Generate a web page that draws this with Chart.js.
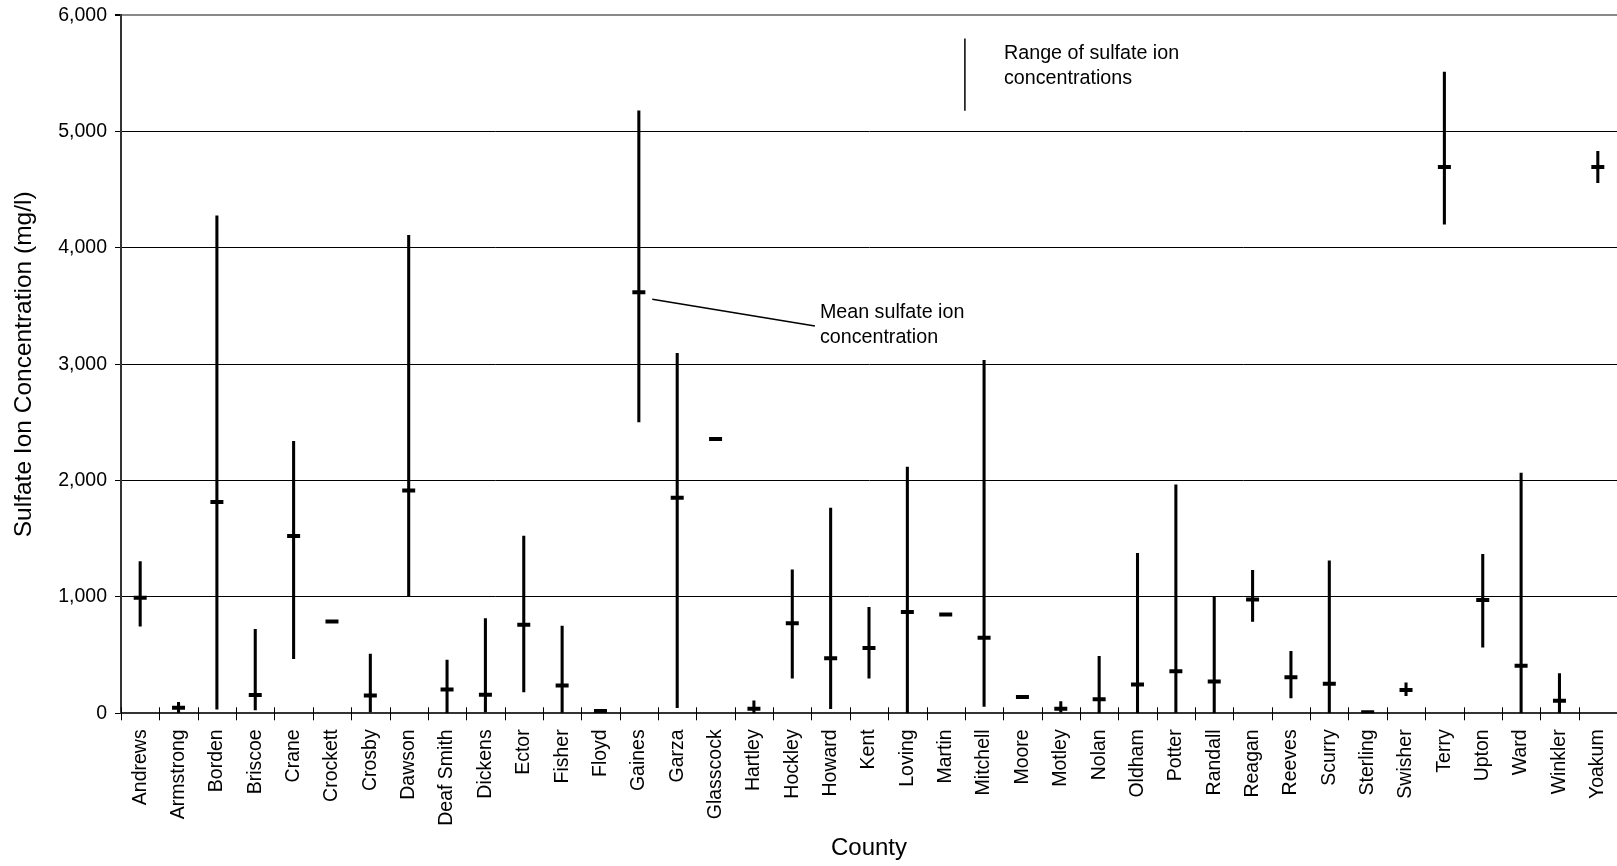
<!DOCTYPE html>
<html>
<head>
<meta charset="utf-8">
<title>Sulfate ion concentration by county</title>
<script src="https://cdn.jsdelivr.net/npm/chart.js@4.4.1/dist/chart.umd.min.js"></script>
<style>
  html, body { margin: 0; padding: 0; background: #fff; }
  canvas { display: block; }
</style>
</head>
<body>
<canvas id="sulfateChart" width="1617" height="866"></canvas>
<script>
const counties = ['Andrews','Armstrong','Borden','Briscoe','Crane','Crockett','Crosby','Dawson','Deaf Smith','Dickens',
  'Ector','Fisher','Floyd','Gaines','Garza','Glasscock','Hartley','Hockley','Howard','Kent',
  'Loving','Martin','Mitchell','Moore','Motley','Nolan','Oldham','Potter','Randall','Reagan',
  'Reeves','Scurry','Sterling','Swisher','Terry','Upton','Ward','Winkler','Yoakum'];

// range of sulfate ion concentrations (mg/l), null where only a mean is shown
const minVals = [750, 5, 35, 30, 469, null, 12, 1002, 0, 12,
  184, 8, null, 2505, 48, null, 0, 301, 40, 301,
  0, null, 60, null, 10, 0, 0, 8, 0, 790,
  132, 0, null, 152, 4204, 569, 0, 0, 4561];
const maxVals = [1305, 95, 4277, 721, 2337, null, 509, 4108, 457, 814,
  1523, 750, null, 5178, 3094, null, 108, 1234, 1764, 910,
  2116, null, 3034, null, 100, 489, 1375, 1964, 1002, 1230,
  533, 1311, null, 261, 5511, 1367, 2064, 341, 4830];
// mean sulfate ion concentration (mg/l)
const meanVals = [994, 48, 1816, 158, 1523, 790, 152, 1916, 204, 160,
  762, 240, 20, 3619, 1852, 2357, 40, 774, 473, 561,
  870, 850, 649, 140, 40, 120, 248, 361, 273, 978,
  309, 253, 8, 200, 4697, 974, 409, 108, 4697];

const yTicks = [0, 1000, 2000, 3000, 4000, 5000, 6000];

const FONT = '"Liberation Sans", Arial, Helvetica, sans-serif';

// call-outs, placed in data units (x = category index, y = mg/l)
const rangeKey = {x: 21.5, from: 5800, to: 5180};
const rangeText = {x: 22.52, lines: [[5675, 'Range of sulfate ion'], [5458, 'concentrations']]};
const meanText = {x: 17.72, lines: [[3445, 'Mean sulfate ion'], [3226, 'concentration']]};
const meanLeader = {x1: 13.35, y1: 3559, x2: 17.59, y2: 3329};

const annotate = {
  id: 'annotate',
  afterDatasetsDraw(chart) {
    const {ctx, scales: {x, y}} = chart;
    ctx.save();
    // category tick marks straddling the x axis
    const y0 = y.getPixelForValue(0);
    ctx.strokeStyle = '#000';
    ctx.lineWidth = 1;
    for (let i = 0; i <= counties.length; i++) {
      const px = Math.round(x.getPixelForValue(i - 0.5)) + 0.5;
      ctx.beginPath();
      ctx.moveTo(px, y0 - 6);
      ctx.lineTo(px, y0 + 7);
      ctx.stroke();
    }
    // key line for the range
    ctx.lineWidth = 1.5;
    ctx.beginPath();
    ctx.moveTo(x.getPixelForValue(rangeKey.x), y.getPixelForValue(rangeKey.from));
    ctx.lineTo(x.getPixelForValue(rangeKey.x), y.getPixelForValue(rangeKey.to));
    ctx.stroke();
    // leader line for the mean
    ctx.beginPath();
    ctx.moveTo(x.getPixelForValue(meanLeader.x1), y.getPixelForValue(meanLeader.y1));
    ctx.lineTo(x.getPixelForValue(meanLeader.x2), y.getPixelForValue(meanLeader.y2));
    ctx.stroke();
    // texts
    ctx.fillStyle = '#000';
    ctx.font = '19.7px ' + FONT;
    ctx.textAlign = 'left';
    ctx.textBaseline = 'middle';
    [rangeText, meanText].forEach(t => {
      t.lines.forEach(([v, s]) => ctx.fillText(s, x.getPixelForValue(t.x), y.getPixelForValue(v)));
    });
    ctx.restore();
  }
};

new Chart(document.getElementById('sulfateChart'), {
  type: 'bar',
  data: {
    labels: counties,
    datasets: [
      {
        label: 'Range',
        data: counties.map((c, i) => minVals[i] == null ? null : [minVals[i], maxVals[i]]),
        backgroundColor: '#000',
        borderWidth: 0,
        barThickness: 2.4,
        order: 2
      },
      {
        type: 'line',
        label: 'Mean',
        data: meanVals,
        showLine: false,
        pointStyle: 'line',
        pointRadius: 6.5,
        pointBorderWidth: 4,
        borderColor: '#000',
        backgroundColor: '#000',
        order: 1
      }
    ]
  },
  options: {
    responsive: false,
    animation: false,
    events: [],
    devicePixelRatio: 1,
    layout: {autoPadding: false, padding: {top: 15.3, right: 0, bottom: 0, left: 0}},
    plugins: {legend: {display: false}, tooltip: {enabled: false}},
    scales: {
      x: {
        offset: true,
        grid: {display: true, drawOnChartArea: false, drawTicks: false},
        border: {display: true, color: '#333', width: 2},
        ticks: {
          autoSkip: false, minRotation: 90, maxRotation: 90, padding: 16,
          color: '#000', font: {family: FONT, size: 19.5}
        },
        title: {
          display: true, text: 'County', color: '#000',
          font: {family: FONT, size: 24}, padding: {top: 0, bottom: 3}
        },
        afterFit: s => { s.height = 152.7; s.paddingLeft = 0; s.paddingRight = 0; }
      },
      y: {
        min: 0, max: 6000,
        afterBuildTicks: s => { s.ticks = yTicks.map(v => ({value: v})); },
        grid: {
          color: c => c.tick && c.tick.value === 6000 ? '#888' : '#000',
          lineWidth: c => c.tick && c.tick.value === 6000 ? 2 : 1,
          tickColor: '#000',
          tickLength: 6
        },
        border: {display: true, color: '#333', width: 2},
        ticks: {
          padding: 8, color: '#000', font: {family: FONT, size: 19.5},
          callback: v => v.toLocaleString('en-US')
        },
        title: {
          display: true, text: 'Sulfate Ion Concentration (mg/l)', color: '#000',
          font: {family: FONT, size: 24.5}, padding: {top: 10, bottom: 0}
        },
        afterFit: s => { s.width = 121; s.paddingTop = 0; s.paddingBottom = 0; }
      }
    }
  },
  plugins: [annotate]
});
</script>
</body>
</html>
